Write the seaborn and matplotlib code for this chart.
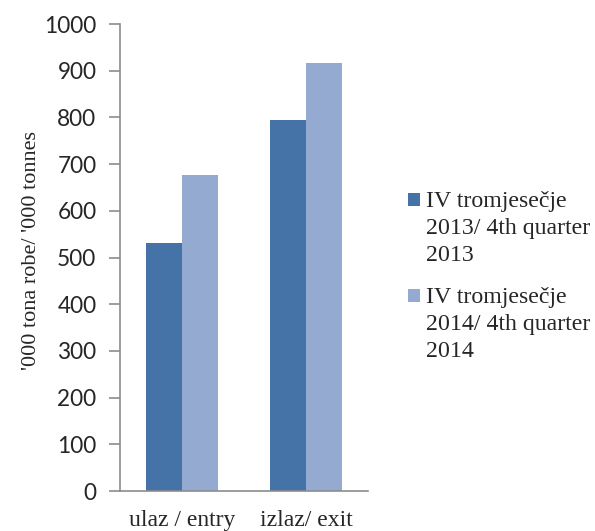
import numpy as np
import pandas as pd
import seaborn as sns
import matplotlib.pyplot as plt
from matplotlib.patches import Rectangle

# chart data
categories = ['ulaz / entry', 'izlaz/ exit']
series = ['IV tromjesečje\n2013/ 4th quarter\n2013',
          'IV tromjesečje\n2014/ 4th quarter\n2014']
values_2013 = [531, 795]
values_2014 = [677, 917]
colors = ['#4573A7', '#95AAD1']
yticks = list(range(0, 1001, 100))

df = pd.DataFrame({
    'category': categories * 2,
    'series': [series[0]] * 2 + [series[1]] * 2,
    'value': values_2013 + values_2014,
})

sns.set_style('white')
serif = ['Liberation Serif', 'DejaVu Serif']

fig = plt.figure(figsize=(5.95, 5.31), dpi=100)
ax = fig.add_axes([0.2017, 0.0753, 0.4168, 0.8795])

sns.barplot(data=df, x='category', y='value', hue='series',
            palette=colors, width=0.58, saturation=1, ax=ax,
            legend=False, linewidth=0)

ax.set_ylim(0, 1000)
ax.set_yticks(yticks)
ax.set_xlim(-0.5, 1.5)
ax.set_xlabel('')
ax.set_ylabel("'000 tona robe/ '000 tonnes", family=serif, fontsize=16,
              va='center')
ax.yaxis.set_label_coords(-0.357, 0.514)
for lab in ax.get_yticklabels():
    lab.set_family(['Lato', 'DejaVu Sans'])
    lab.set_fontsize(16.3)
for lab in ax.get_xticklabels():
    lab.set_family(serif)
    lab.set_fontsize(17)

ax.tick_params(axis='y', length=8, width=1.2, color='#8c8c8c', pad=9,
               left=True)
ax.tick_params(axis='x', length=0, pad=14)
for side in ['top', 'right']:
    ax.spines[side].set_visible(False)
for side in ['left', 'bottom']:
    ax.spines[side].set_color('#8c8c8c')
    ax.spines[side].set_linewidth(1.2)

# legend drawn by hand so the square sits next to the first line
for i, (lab, c) in enumerate(zip(series, colors)):
    top_px = 191 + i * 96
    fig.patches.append(Rectangle((408 / 595, 1 - 206 / 531 - i * 96 / 531),
                                 12 / 595, 13 / 531,
                                 transform=fig.transFigure,
                                 facecolor=c, edgecolor='none'))
    fig.text(426 / 595, 1 - top_px / 531, lab, family=serif, fontsize=17.2,
             va='top', ha='left', linespacing=1.37)

fig.savefig('out.png', dpi=100)
